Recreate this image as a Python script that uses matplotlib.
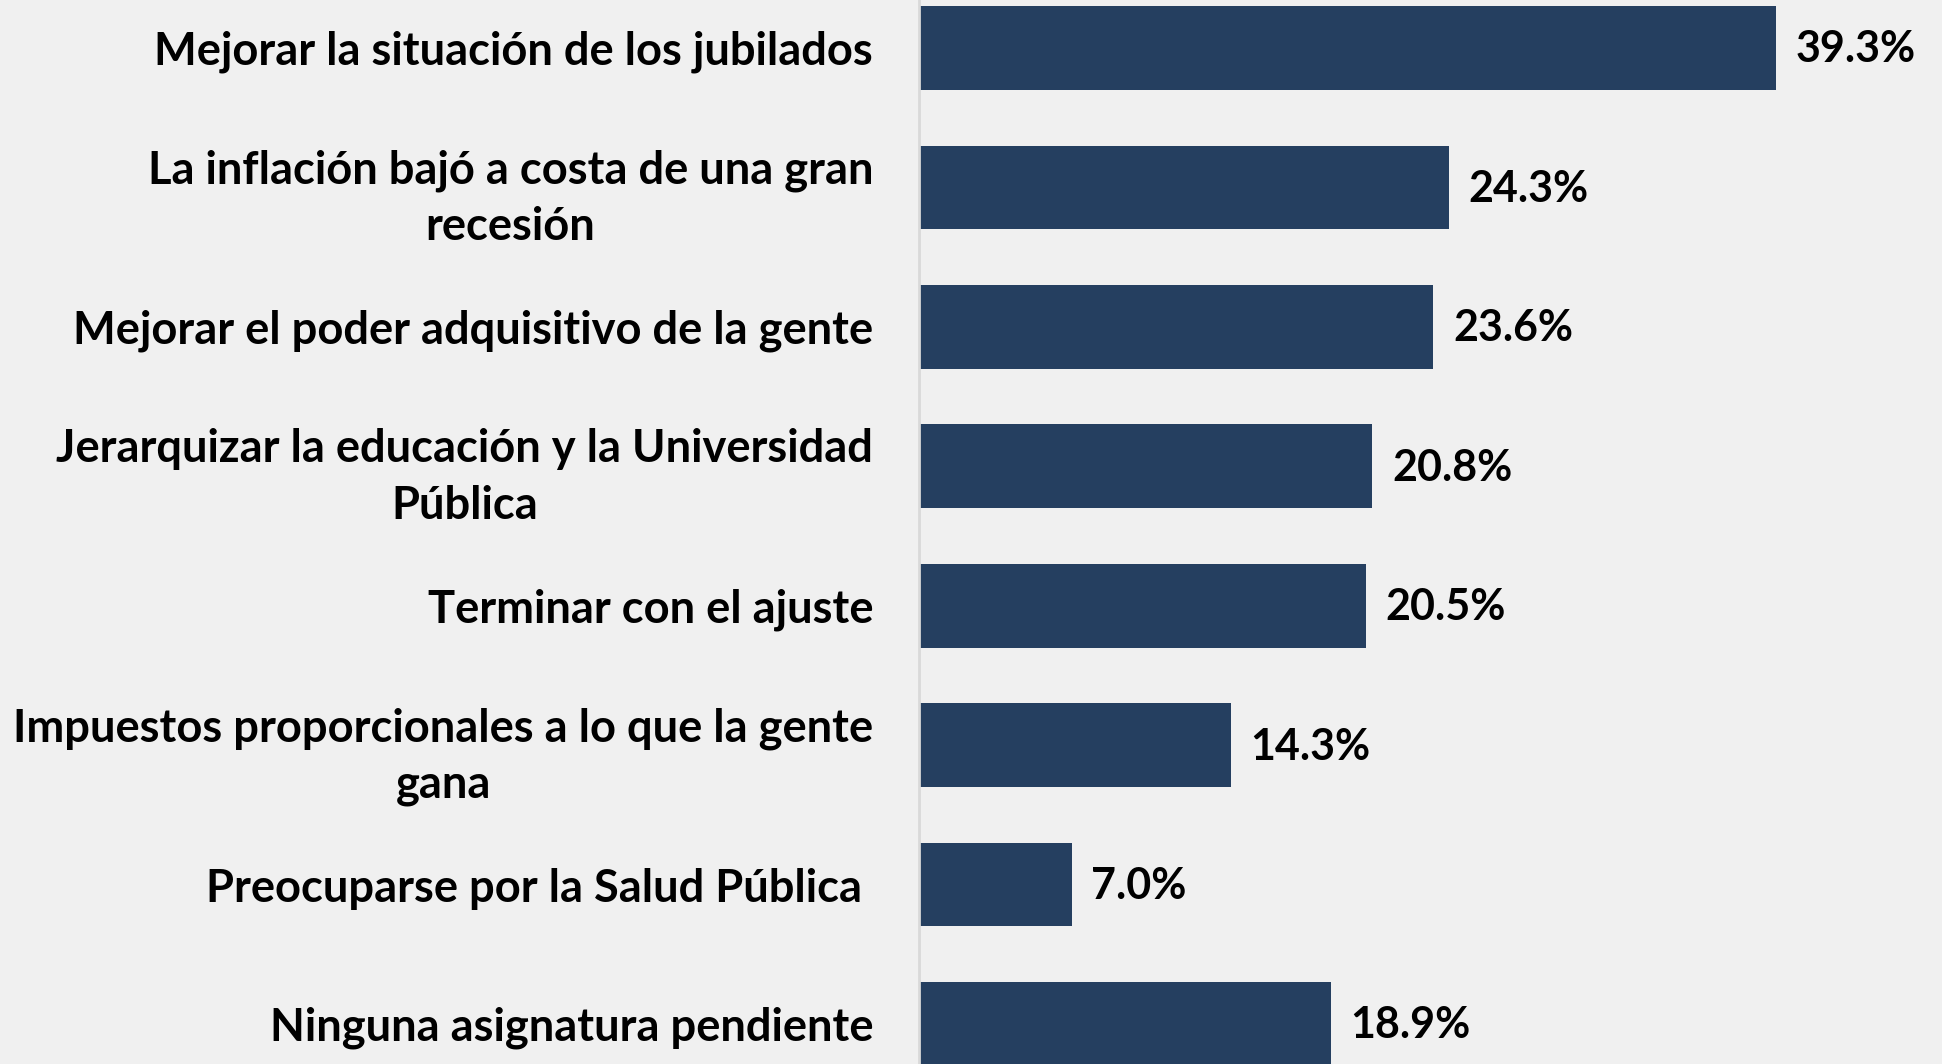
import matplotlib
matplotlib.use("Agg")
import matplotlib.pyplot as plt

categories = [
    "Mejorar la situación de los jubilados",
    "La inflación bajó a costa de una gran\nrecesión",
    "Mejorar el poder adquisitivo de la gente",
    "Jerarquizar la educación y la Universidad\nPública",
    "Terminar con el ajuste",
    "Impuestos proporcionales a lo que la gente\ngana",
    "Preocuparse por la Salud Pública ",
    "Ninguna asignatura pendiente",
]
values = [39.3, 24.3, 23.6, 20.8, 20.5, 14.3, 7.0, 18.9]
value_labels = ["39.3%", "24.3%", "23.6%", "20.8%", "20.5%", "14.3%", "7.0%", "18.9%"]

bg = "#f0f0f0"
bar_color = "#253f60"

plt.rcParams["font.family"] = ["Lato", "DejaVu Sans"]
plt.rcParams["font.weight"] = "bold"

fig = plt.figure(figsize=(19.42, 10.64), dpi=100, facecolor=bg)
ax = fig.add_axes([919 / 1942, 0, 1 - 919 / 1942, 1])
ax.set_facecolor(bg)

y = list(range(len(categories)))
ax.barh(y, values, height=0.60, color=bar_color, zorder=2)

ax.set_xlim(0, (1942 - 919) / 21.8)
ax.set_ylim(7.287, -0.344)

for yi, v, lab in zip(y, values, value_labels):
    ax.annotate(lab, xy=(v, yi), xytext=(14, -1), textcoords="offset points",
                ha="left", va="center", fontsize=31, fontweight="bold", color="black")

ax.set_yticks(y)
ax.set_yticklabels(categories, fontsize=32.6, fontweight="bold", multialignment="center",
                   linespacing=1.42)
ax.tick_params(axis="y", length=0, pad=33)
ax.set_xticks([])
for s in ["top", "right", "bottom"]:
    ax.spines[s].set_visible(False)
ax.spines["left"].set_color("#d9d9d9")
ax.spines["left"].set_linewidth(2)

fig.savefig("out.png", dpi=100, facecolor=bg)
